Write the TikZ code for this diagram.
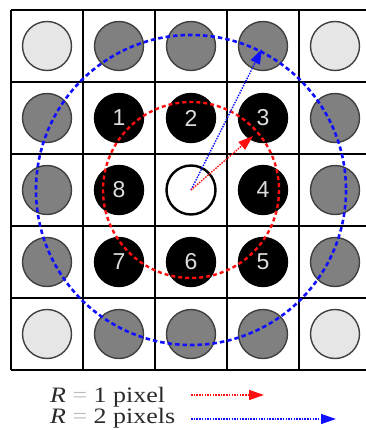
\documentclass[tikz,border=0pt]{standalone}
\usepackage{fontspec}
\setmainfont{Liberation Serif}
\newfontfamily\numfont{Liberation Sans}
\usetikzlibrary{arrows.meta}
\definecolor{lightc}{HTML}{E6E6E6}
\definecolor{midc}{HTML}{808080}
\definecolor{numc}{HTML}{DDDDDD}
\definecolor{txtc}{HTML}{2A2A2A}
\definecolor{eqc}{HTML}{BBBBBB}
\definecolor{redc}{HTML}{FF1010}
\definecolor{bluec}{HTML}{1010FF}
\tikzset{
  cell/.style={circle, minimum size=49pt, inner sep=0pt, line width=1.4pt, draw=black!75},
  lightdot/.style={cell, fill=lightc},
  graydot/.style={cell, fill=midc},
  blackdot/.style={cell, fill=black, draw=black, text=numc, font=\numfont\fontsize{23}{23}\selectfont},
  centerdot/.style={cell, fill=white, draw=black, line width=2.4pt},
  gridline/.style={line width=2.6pt, black},
  redring/.style={redc, line width=2.4pt, dash pattern=on 4pt off 3pt},
  bluering/.style={bluec, line width=2.6pt, dash pattern=on 4.5pt off 3pt},
  redarrow/.style={redc, line width=1.4pt, dash pattern=on 1.5pt off 1.2pt, -{Triangle[length=15pt,width=10pt]}},
  bluearrow/.style={bluec, line width=1.4pt, dash pattern=on 1.5pt off 1.2pt, -{Triangle[length=15pt,width=10pt]}},
  legtext/.style={anchor=base west, text=txtc, font=\fontsize{22}{22}\selectfont, inner sep=0pt},
}
\begin{document}
\begin{tikzpicture}[x=1pt,y=-1pt]
\useasboundingbox (0,0) rectangle (365,430);
\fill[white] (0,0) rectangle (365,430);
% grid
\foreach \k in {0,...,5} {
  \draw[gridline] (11+72*\k,10) -- (11+72*\k,370);
  \draw[gridline] (11,10+72*\k) -- (371,10+72*\k);
}
% corner light circles
\foreach \i/\j in {0/0,4/0,0/4,4/4}
  \node[lightdot] (c\i\j) at (47+72*\i,46+72*\j) {};
% outer gray ring
\foreach \i/\j in {1/0,2/0,3/0,0/1,4/1,0/2,4/2,0/3,4/3,1/4,2/4,3/4}
  \node[graydot] (c\i\j) at (47+72*\i,46+72*\j) {};
% inner black ring with numbers
\foreach \i/\j/\n in {1/1/1,2/1/2,3/1/3,3/2/4,3/3/5,2/3/6,1/3/7,1/2/8}
  \node[blackdot] (c\i\j) at (47+72*\i,46+72*\j) {\n};
% center
\node[centerdot] (c22) at (191,190) {};
% rings
\draw[redring] (c22.center) circle[radius=88];
\draw[bluering] (c22.center) circle[radius=155];
% arrows
\coordinate (redtip) at (253,136);
\coordinate (bluetip) at (262,49);
\draw[bluearrow] (c22.center) -- (bluetip);
\draw[redarrow] (c22.center) -- (redtip);
% legend
\node[legtext] (l1) at (50,402) {\scalebox{1.18}[1]{\textit{R} \textcolor{eqc}{=} 1 pixel}};
\node[legtext] (l2) at (50,423) {\scalebox{1.18}[1]{\textit{R} \textcolor{eqc}{=} 2 pixels}};
\coordinate (r1s) at (191,395);
\coordinate (r1e) at (264,395);
\coordinate (r2s) at (191,419);
\coordinate (r2e) at (336,419);
\draw[redarrow] (r1s) -- (r1e);
\draw[bluearrow] (r2s) -- (r2e);
\end{tikzpicture}
\end{document}
